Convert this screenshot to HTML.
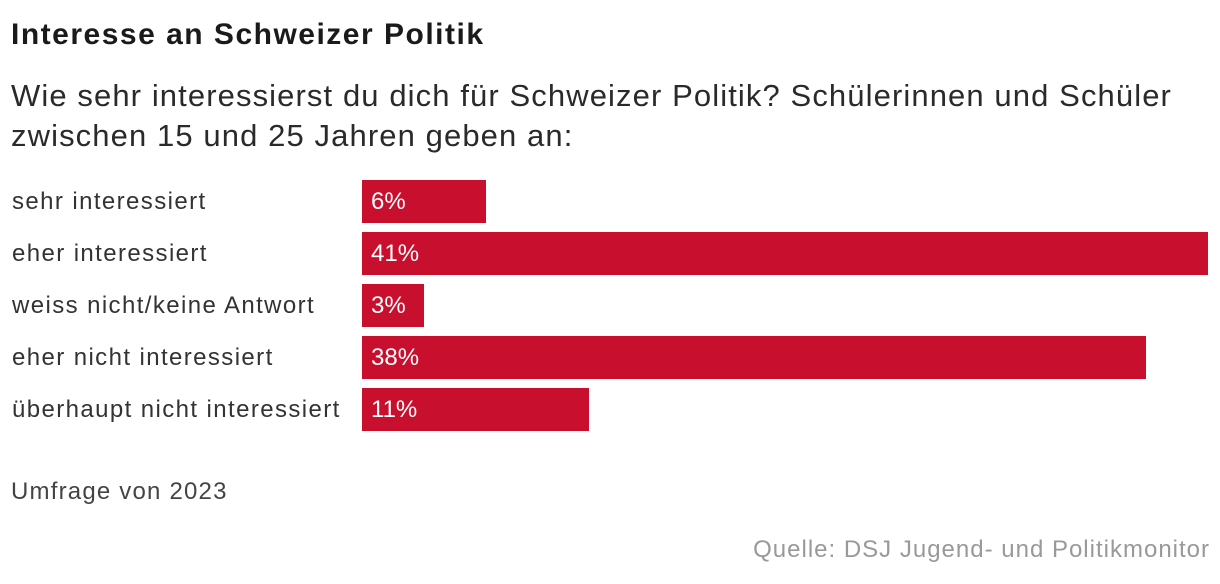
<!DOCTYPE html>
<html><head><meta charset="utf-8"><style>
body{margin:0;width:1220px;height:584px;background:#fff;font-family:"Liberation Sans","DejaVu Sans",sans-serif;position:relative;overflow:hidden}
.t{position:absolute;left:11px;top:18px;font-size:30px;font-weight:bold;color:#1a1a1a;letter-spacing:1.5px}
.s{position:absolute;left:11px;top:76px;font-size:31px;line-height:40px;color:#2a2a2a;width:1205px;letter-spacing:1.1px}
.lab{position:absolute;left:12px;font-size:24px;color:#333;line-height:43px;letter-spacing:1.4px}
.bar{position:absolute;left:362px;height:43px;background:#c8102e}
.val{position:absolute;left:371px;font-size:24px;color:#fff;line-height:43px}
.note{position:absolute;left:11px;top:478px;font-size:24px;color:#444;letter-spacing:1.2px}
.src{position:absolute;right:10px;top:536px;font-size:24px;color:#999;letter-spacing:1px}
</style></head><body>
<div class="t">Interesse an Schweizer Politik</div>
<div class="s">Wie sehr interessierst du dich für Schweizer Politik? Schülerinnen und Schüler zwischen 15 und 25 Jahren geben an:</div>
<div id="chart"></div>
<div class="note">Umfrage von 2023</div>
<div class="src">Quelle: DSJ Jugend- und Politikmonitor</div>
<script>
const categories=["sehr interessiert","eher interessiert","weiss nicht/keine Antwort","eher nicht interessiert","überhaupt nicht interessiert"];
const values=[6,41,3,38,11];
const valueLabels=["6%","41%","3%","38%","11%"];
const chart=document.getElementById('chart');
const top0=180,pitch=52,maxW=846,maxV=41;
function xs(v){return v/maxV*maxW;}
categories.forEach((c,i)=>{
  const y=top0+i*pitch;
  const l=document.createElement('div');l.className='lab';l.style.top=y+'px';l.textContent=c;
  
  
  chart.appendChild(l);
  const b=document.createElement('div');b.className='bar';b.style.top=y+'px';b.style.width=xs(values[i])+'px';
  
  
  chart.appendChild(b);
  const v=document.createElement('div');v.className='val';v.style.top=y+'px';v.textContent=valueLabels[i];
  
  
  chart.appendChild(v);
});
</script>
</body></html>
